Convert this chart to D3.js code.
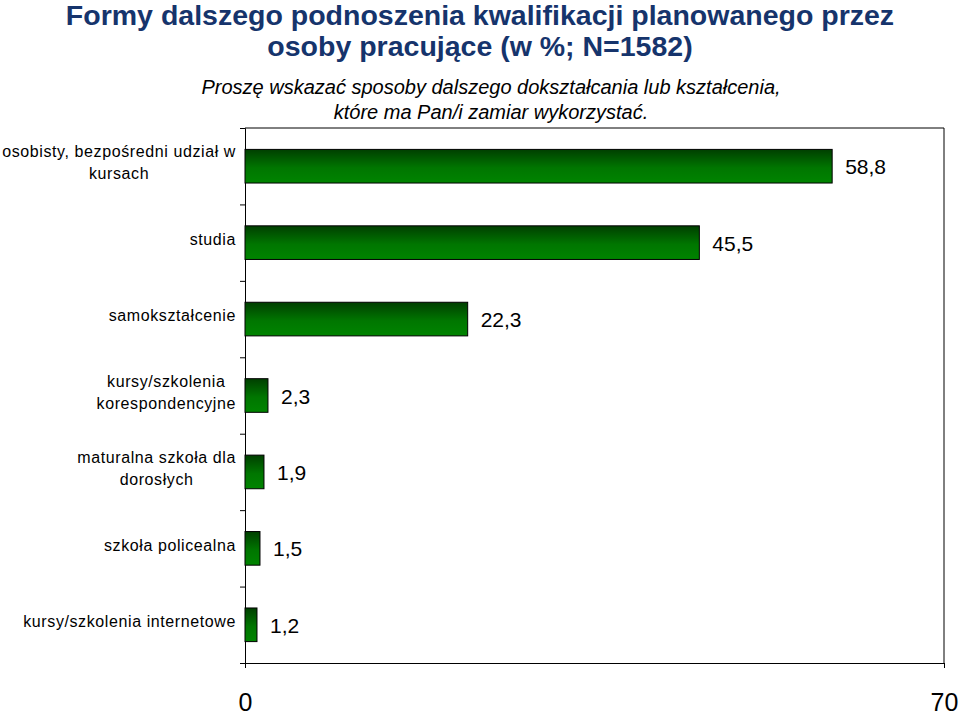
<!DOCTYPE html>
<html>
<head>
<meta charset="utf-8">
<script src="https://cdn.jsdelivr.net/npm/d3@7"></script>
<style>
  body { margin: 0; background: #fff; }
  text { font-family: "Liberation Sans", Arial, sans-serif; }
</style>
</head>
<body>
<script>
// chart data
var categories = [
  ["osobisty, bezpośredni udział w", "kursach"],
  ["studia"],
  ["samokształcenie"],
  ["kursy/szkolenia", "korespondencyjne"],
  ["maturalna szkoła dla", "dorosłych"],
  ["szkoła policealna"],
  ["kursy/szkolenia internetowe"]
];
var values = [58.8, 45.5, 22.3, 2.3, 1.9, 1.5, 1.2];
var xTicks = [0, 70];
var titleLines = ["Formy dalszego podnoszenia kwalifikacji planowanego przez", "osoby pracujące (w %; N=1582)"];
var subtitleLines = ["Proszę wskazać sposoby dalszego dokształcania lub kształcenia,", "które ma Pan/i zamiar wykorzystać."];

var width = 960;
var height = 715;

var margin = { top: 128, right: 16, bottom: 52, left: 245 };
var chartWidth = width - margin.left - margin.right;
var chartHeight = height - margin.top - margin.bottom;

var svg = d3.select("body")
  .append("svg")
  .attr("width", width)
  .attr("height", height);

// gradient for bars
var grad = svg.append("defs").append("linearGradient")
  .attr("id", "barGrad")
  .attr("x1", 0).attr("y1", 0).attr("x2", 0).attr("y2", 1);
grad.append("stop").attr("offset", "0%").attr("stop-color", "#003f00");
grad.append("stop").attr("offset", "55%").attr("stop-color", "#007600");
grad.append("stop").attr("offset", "100%").attr("stop-color", "#008400");

// titles (baselines)
svg.append("g").selectAll("text")
  .data(titleLines)
  .join("text")
  .attr("x", 480)
  .attr("y", function(d, i) { return 25 + i * 31; })
  .attr("text-anchor", "middle")
  .attr("font-size", 28.5)
  .attr("font-weight", "bold")
  .attr("fill", "#16346c")
  .text(function(d) { return d; });

svg.append("g").selectAll("text")
  .data(subtitleLines)
  .join("text")
  .attr("x", 491)
  .attr("y", function(d, i) { return 94 + i * 25; })
  .attr("text-anchor", "middle")
  .attr("font-size", 20)
  .attr("font-style", "italic")
  .attr("fill", "#000")
  .text(function(d) { return d; });

var chartGroup = svg.append("g")
  .attr("transform", `translate(${margin.left}, ${margin.top})`);

var xScale = d3.scaleLinear().domain([0, 70]).range([0, chartWidth]);
var yScale = d3.scaleBand()
  .domain(d3.range(categories.length))
  .range([0, chartHeight])
  .paddingInner(0.56)
  .paddingOuter(0.28);

// frame (top and right)
chartGroup.append("path")
  .attr("d", `M0,0H${chartWidth}V${chartHeight}`)
  .attr("fill", "none")
  .attr("stroke", "#000")
  .attr("stroke-width", 1);

// left axis ticks at band boundaries
var yTickScale = d3.scaleLinear().domain([0, categories.length]).range([0, chartHeight]);
var leftAxis = d3.axisLeft(yTickScale)
  .tickValues(d3.range(0, categories.length + 1))
  .tickSize(5)
  .tickSizeOuter(5)
  .tickFormat("");
chartGroup.append("g").call(leftAxis)
  .call(function(g) { g.selectAll("line, path").attr("stroke", "#000"); });

// bottom axis
var bottomAxis = d3.axisBottom(xScale)
  .tickValues(xTicks)
  .tickSize(5)
  .tickSizeOuter(0)
  .tickFormat(d3.format("d"));
chartGroup.append("g")
  .attr("transform", `translate(0, ${chartHeight})`)
  .call(bottomAxis)
  .call(function(g) {
    g.selectAll("line, path").attr("stroke", "#000");
    g.selectAll("text")
      .attr("font-size", 25)
      .attr("font-family", "Liberation Sans, Arial, sans-serif")
      .attr("fill", "#000")
      .attr("y", 0)
      .attr("dy", 0)
      .attr("dominant-baseline", "middle")
      .attr("transform", "translate(0, 41)");
  });

// bars
chartGroup.selectAll(".bar")
  .data(values)
  .join("rect")
  .attr("class", "bar")
  .attr("x", 0)
  .attr("y", function(d, i) { return yScale(i); })
  .attr("width", function(d) { return xScale(d); })
  .attr("height", yScale.bandwidth())
  .attr("fill", "url(#barGrad)")
  .attr("stroke", "#000")
  .attr("stroke-width", 1);

// value labels
chartGroup.selectAll(".val")
  .data(values)
  .join("text")
  .attr("class", "val")
  .attr("x", function(d) { return xScale(d) + 13; })
  .attr("y", function(d, i) { return yScale(i) + yScale.bandwidth() / 2 + 8; })
  .attr("font-size", 21)
  .attr("fill", "#000")
  .text(function(d) { return String(d).replace(".", ","); });

// category labels, lines centred in a block right-aligned to the axis
var labelGroups = chartGroup.selectAll(".cat")
  .data(categories)
  .join("text")
  .attr("class", "cat")
  .attr("font-size", 16)
  .attr("letter-spacing", 0.6)
  .attr("fill", "#000")
  .attr("text-anchor", "middle");

labelGroups.each(function(lines, i) {
  var t = d3.select(this);
  var cy = yScale(i) + yScale.bandwidth() / 2;
  var spans = t.selectAll("tspan")
    .data(lines)
    .join("tspan")
    .attr("dominant-baseline", "middle")
    .text(function(d) { return d; });
  var maxW = 0;
  spans.each(function() { maxW = Math.max(maxW, this.getComputedTextLength()); });
  var cx = -9 - maxW / 2;
  spans
    .attr("x", cx)
    .attr("y", function(d, j) { return cy - 2 + (j - (lines.length - 1) / 2) * 22; });
});
</script>
</body>
</html>
